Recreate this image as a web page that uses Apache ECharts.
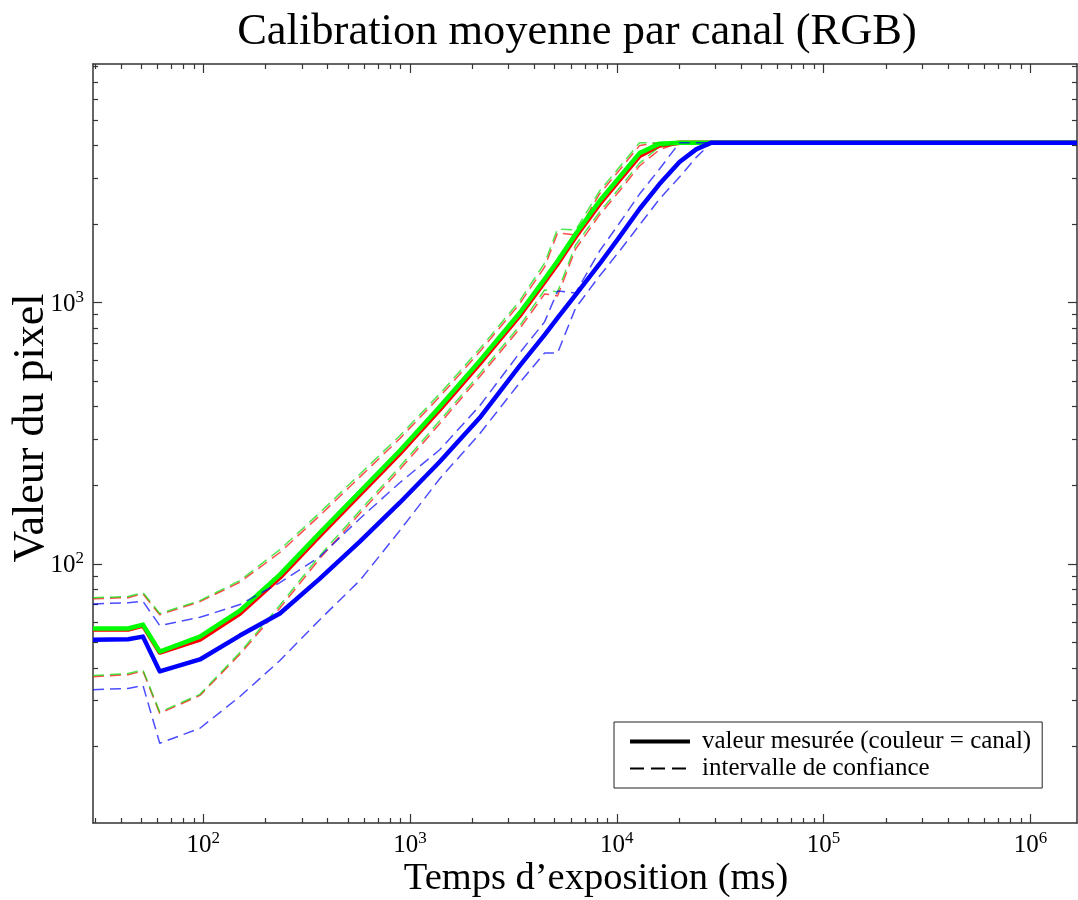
<!DOCTYPE html>
<html><head><meta charset="utf-8">
<script src="https://cdn.jsdelivr.net/npm/echarts@6/dist/echarts.min.js"></script>
<style>html,body{margin:0;padding:0;background:#fff}#c{width:1078px;height:900px}</style>
</head><body><div id="c"></div><script>
// Exposure times (ms)
const exposureMs = [29.3, 43.3, 51.1, 61.6, 96.4, 150.4, 234.7, 366.2, 571.5, 891.9, 1392, 2172, 3388, 4475, 5170, 6318, 8251, 10304, 12876, 16080, 20090, 24270, 28670, 39150, 100000, 300000, 1000000, 1680000];
// Measured mean values
const redMean   = [56.1, 56.1, 58.1, 45.8, 51.3, 64.6, 88.6, 128.3, 184.0, 264.0, 388.9, 583.1, 889.5, 1200, 1406, 1784, 2384, 2944, 3637, 3990, 4095, 4095, 4095, 4095, 4095, 4095, 4095, 4095];
const greenMean = [56.6, 56.6, 58.6, 46.2, 52.7, 66.3, 91.0, 131.7, 189.0, 271.1, 399.3, 598.6, 913, 1232, 1443, 1831, 2448, 3024, 3735, 4060, 4095, 4095, 4095, 4095, 4095, 4095, 4095, 4095];
const blueMean  = [51.3, 51.5, 52.7, 38.8, 43.1, 53.2, 64.6, 87.9, 121.7, 171.5, 246.1, 362.5, 572.8, 752.3, 874, 1070, 1406, 1784, 2282, 2843, 3451, 3869, 4095, 4095, 4095, 4095, 4095, 4095];
// Confidence interval bounds
const redUpper   = [73.6, 74.3, 76.9, 63.9, 71.7, 85.1, 110.6, 153.2, 214.9, 301.7, 436.5, 648.7, 989.6, 1369, 1847, 1815, 2606, 3219, 3990, 4095, 4095, 4095, 4095, 4095, 4095, 4095, 4095, 4095];
const redLower   = [37.0, 37.7, 38.9, 26.8, 31.4, 45.1, 67.8, 104.9, 155.9, 229.5, 344.2, 520.6, 794.1, 1080, 1061, 1604, 2166, 2675, 3335, 3851, 4095, 4095, 4095, 4095, 4095, 4095, 4095, 4095];
const greenUpper = [74.3, 75.0, 77.7, 64.6, 72.4, 86.4, 113.4, 157.1, 220.4, 309.4, 447.7, 665.3, 1015, 1418, 1913, 1896, 2673, 3302, 4095, 4095, 4095, 4095, 4095, 4095, 4095, 4095, 4095, 4095];
const greenLower = [37.4, 38.1, 39.3, 27.1, 31.7, 45.8, 69.5, 107.6, 159.9, 235.4, 353.0, 533.9, 814.5, 1118, 1099, 1662, 2222, 2744, 3420, 3950, 4095, 4095, 4095, 4095, 4095, 4095, 4095, 4095];
const blueUpper  = [70.3, 71.1, 71.9, 58.1, 62.5, 69.9, 84.8, 106.6, 149.0, 204.6, 273.5, 402.8, 642.3, 843.9, 1108, 1089, 1576, 2017, 2603, 3246, 4095, 4095, 4095, 4095, 4095, 4095, 4095, 4095];
const blueLower  = [33.0, 33.4, 34.3, 20.6, 23.5, 31.1, 42.7, 61.2, 86.4, 134.1, 211.9, 314.9, 493.2, 642.3, 642.3, 954.3, 1265, 1576, 1982, 2491, 3024, 3606, 4095, 4095, 4095, 4095, 4095, 4095];
// Axis ticks
const xMajorTicks = [100, 1000, 10000, 100000, 1000000];
const yMajorTicks = [100, 1000];
const X_MIN = 29.3, X_MAX = 1680000, Y_MIN = 10.2, Y_MAX = 8190;
const legendNames = ['valeur mesurée (couleur = canal)', 'intervalle de confiance'];
const titleText = 'Calibration moyenne par canal (RGB)';
const xTitle = 'Temps d’exposition (ms)';
const yTitle = 'Valeur du pixel';

function minorTicks(lo, hi) {
  const out = [];
  for (let d = 0; d <= 7; d++) for (let k = 2; k <= 9; k++) {
    const v = k * Math.pow(10, d);
    if (v > lo && v < hi) out.push(v);
  }
  return out;
}
const xMinor = minorTicks(X_MIN, X_MAX);
const yMinor = minorTicks(Y_MIN, Y_MAX);

const FONT = '"Liberation Serif", "Times New Roman", serif';
const AX = '#333333';
const rich = {
  b: {fontFamily: FONT, fontSize: 25, lineHeight: 28, color: '#000', verticalAlign: 'bottom'},
  s: {fontFamily: FONT, fontSize: 17, lineHeight: 11, color: '#000', verticalAlign: 'top'}
};
const expFmt = v => '{b|10}{s|' + Math.round(Math.log10(v)) + '}';

function mkX(pos, major, labels) {
  return {
    type: 'log', position: pos, min: X_MIN, max: X_MAX, gridIndex: 0,
    axisLine: {show: major, onZero: false, lineStyle: {color: AX, width: 1.5}},
    axisTick: {show: true, inside: true, length: major ? 9 : 5, customValues: major ? xMajorTicks : xMinor, lineStyle: {color: AX, width: 1.2}},
    axisLabel: labels ? {show: true, customValues: xMajorTicks, formatter: expFmt, rich: rich, margin: 7} : {show: false},
    splitLine: {show: false}
  };
}
function mkY(pos, major, labels) {
  return {
    type: 'log', position: pos, min: Y_MIN, max: Y_MAX, gridIndex: 0,
    axisLine: {show: major, onZero: false, lineStyle: {color: AX, width: 1.5}},
    axisTick: {show: true, inside: true, length: major ? 9 : 5, customValues: major ? yMajorTicks : yMinor, lineStyle: {color: AX, width: 1.2}},
    axisLabel: labels ? {show: true, customValues: yMajorTicks, formatter: expFmt, rich: rich, margin: 9} : {show: false},
    splitLine: {show: false}
  };
}

function pairs(arr) { return exposureMs.map((t, i) => [t, arr[i]]); }
function solid(name, arr, color) {
  return {type: 'line', name: name, data: pairs(arr), symbol: 'none', showSymbol: false, silent: true,
    xAxisIndex: 0, yAxisIndex: 0, color: color,
    lineStyle: {color: color, width: 4.5, opacity: 1, join: 'round'}};
}
function dashed(name, arr, color) {
  return {type: 'line', name: name, data: pairs(arr), symbol: 'none', showSymbol: false, silent: true,
    xAxisIndex: 0, yAxisIndex: 0, color: color,
    lineStyle: {color: color, width: 1.5, opacity: 0.7, type: [11, 6]}};
}

const series = [
  solid('R', redMean, '#ff0000'), dashed('R+', redUpper, '#ff0000'), dashed('R-', redLower, '#ff0000'),
  solid('G', greenMean, '#00ff00'), dashed('G+', greenUpper, '#00e000'), dashed('G-', greenLower, '#00e000'),
  solid('B', blueMean, '#0000ff'), dashed('B+', blueUpper, '#0000ff'), dashed('B-', blueLower, '#0000ff'),
  {type: 'line', name: legendNames[0], data: [], symbol: 'none', symbolSize: 0, itemStyle: {opacity: 0}, color: '#000', lineStyle: {color: '#000', width: 4}},
  {type: 'line', name: legendNames[1], data: [], symbol: 'none', symbolSize: 0, itemStyle: {opacity: 0}, color: '#000', lineStyle: {color: '#000', width: 2, type: [14, 7]}}
];

const chart = echarts.init(document.getElementById('c'), null, {renderer: 'canvas'});
chart.setOption({
  animation: false,
  backgroundColor: '#fff',
  grid: {left: 93, top: 64, right: 1, bottom: 77, containLabel: false, outerBoundsMode: 'none'},
  xAxis: [mkX('bottom', true, true), mkX('bottom', false, false), mkX('top', true, false), mkX('top', false, false)],
  yAxis: [mkY('left', true, true), mkY('left', false, false), mkY('right', true, false), mkY('right', false, false)],
  legend: {
    show: true, orient: 'vertical', left: 614, top: 722, padding: [7, 11, 7, 14], itemGap: 2,
    itemWidth: 60, itemHeight: 14, backgroundColor: '#fff', borderColor: '#222', borderWidth: 1, borderRadius: 0,
    selectedMode: false,
    itemStyle: {opacity: 0, borderWidth: 0},
    textStyle: {fontFamily: FONT, fontSize: 25, lineHeight: 25, color: '#000', padding: [0, 0, 0, 7]},
    data: [
      {name: legendNames[0], itemStyle: {opacity: 0, borderWidth: 0}, lineStyle: {width: 4, color: '#000'}},
      {name: legendNames[1], itemStyle: {opacity: 0, borderWidth: 0}, lineStyle: {width: 2, color: '#000', type: [14, 7]}}
    ]
  },
  graphic: [
    {type: 'text', x: 577, y: 32, silent: true, style: {text: titleText, fontFamily: FONT, fontSize: 44.5, fill: '#000', align: 'center', verticalAlign: 'middle'}},
    {type: 'text', x: 596, y: 879, silent: true, style: {text: xTitle, fontFamily: FONT, fontSize: 38.5, fill: '#000', align: 'center', verticalAlign: 'middle'}},
    {type: 'text', x: 31, y: 428, rotation: Math.PI / 2, silent: true, style: {text: yTitle, fontFamily: FONT, fontSize: 44, fill: '#000', align: 'center', verticalAlign: 'middle'}}
  ],
  series: series
});
</script></body></html>
